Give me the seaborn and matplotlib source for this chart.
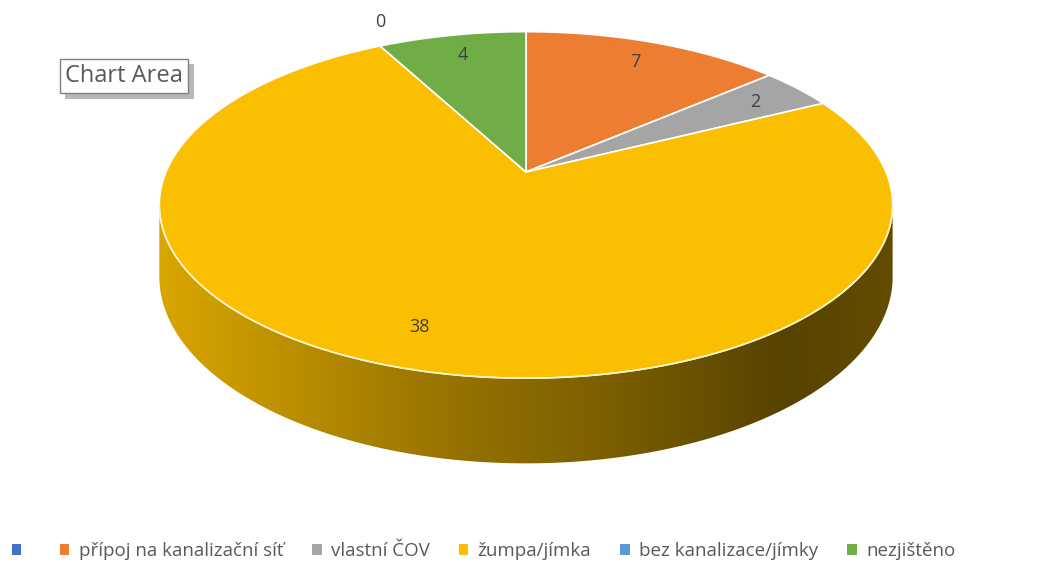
import numpy as np
import matplotlib.pyplot as plt
import matplotlib.patheffects as pe
import seaborn as sns
from matplotlib.patches import Patch, PathPatch
from matplotlib.path import Path
from matplotlib.colors import to_rgb

# --- data ---
categories = ["", "přípoj na kanalizační síť", "vlastní ČOV", "žumpa/jímka",
              "bez kanalizace/jímky", "nezjištěno"]
values = [np.nan, 7, 2, 38, 0, 4]
colors = ["#4472C4", "#ED7D31", "#A5A5A5", "#FABF00", "#5B9BD5", "#70AD47"]

sns.set_theme(style="white")
plt.rcParams['font.family'] = ['Open Sans', 'DejaVu Sans']

# geometry of the fake 3D pie (pixels)
CX, CY = 526, 172
RX, RY = 360, 167
PERSP = 0.19
DEPTH = 69
TXT = "#404040"


def proj(theta, r=1.0, z=0.0):
    s = 1.0 / (1.0 + PERSP * r * np.sin(theta))
    x = CX + RX * r * np.cos(theta) * s
    y = CY - RY * r * np.sin(theta) * s + z * s
    return x, y


fig = plt.figure(figsize=(10.56, 5.67), dpi=100)
ax = fig.add_axes([0, 0, 1, 1])
ax.set_xlim(0, 1056)
ax.set_ylim(567, 0)
ax.axis("off")

total = np.nansum(values)
vals = np.nan_to_num(np.array(values, dtype=float))
acc = 2 * np.pi * np.cumsum(vals) / total
ends = np.pi / 2 - acc
starts = np.r_[np.pi / 2, ends[:-1]]


def slice_color(theta):
    # Excel goes clockwise from 12 o'clock
    a = (np.pi / 2 - theta) % (2 * np.pi)
    idx = min(int(np.searchsorted(acc, a, side="right")), len(colors) - 1)
    return np.array(to_rgb(colors[idx]))


# side wall: visible front part only, horizontal gradient (lighter on the left)
tan = np.arcsin(PERSP)
th_front = np.linspace(-np.pi + tan, -tan, 800)
xf, yf = proj(th_front)
xfb, yfb = proj(th_front, z=DEPTH)
wall = Path(np.c_[np.r_[xf, xfb[::-1], xf[:1]], np.r_[yf, yfb[::-1], yf[:1]]])

x0, x1 = xf.min() - 2, xf.max() + 2
xs = np.linspace(x0, x1, 760)
shade_t = [0.0, 0.4, 0.6, 0.85, 1.0]
shade_f = [0.87, 0.60, 0.50, 0.35, 0.40]
row = []
for x in xs:
    tht = np.interp(x, xf, th_front)
    t = (x - x0) / (x1 - x0)
    row.append(slice_color(tht) * np.interp(t, shade_t, shade_f))
img = np.array(row)[None, :, :]
im = ax.imshow(img, extent=(x0, x1, yfb.max() + 2, CY - 5), aspect="auto",
               interpolation="bilinear", zorder=1)
im.set_clip_path(PathPatch(wall, transform=ax.transData))

# top face
for v, c, a0, a1 in zip(vals, colors, starts, ends):
    if v <= 0:
        continue
    tt = np.linspace(a0, a1, 200)
    x, y = proj(tt)
    ax.fill(np.r_[CX, x], np.r_[CY, y], color=c, ec="white", lw=1.2, zorder=2)

# light rim on the front edge
ax.plot(xf, yf, color="#FFF2C0", lw=1.0, zorder=3)

# data labels
for v, a0, a1 in zip(values, starts, ends):
    if np.isnan(v):
        continue
    mid = (a0 + a1) / 2
    if v > 0:
        x, y = proj(mid, 0.83)
    else:
        x, y = proj(mid, 1.0)
        y -= 24
    ax.text(x, y, f"{int(v)}", ha="center", va="center", fontsize=13, color=TXT, zorder=4)

# "Chart Area" tooltip with a drop shadow
tip = ax.text(65, 76, "Chart Area", fontsize=17, color="#595959", ha="left", va="center",
              bbox=dict(boxstyle="square,pad=0.22", fc="white", ec="#808080", lw=1), zorder=6)
tip.get_bbox_patch().set_path_effects([
    pe.SimplePatchShadow(offset=(4, -4), shadow_rgbFace="#9a9a9a", alpha=0.7), pe.Normal()])

# legend
handles = [Patch(facecolor=c, edgecolor="none") for c in colors]
ax.legend(handles, categories, loc="center", bbox_to_anchor=(0.458, 0.028), ncol=6,
          frameon=False, handlelength=0.5, handleheight=0.5, handletextpad=0.5,
          columnspacing=1.55, fontsize=13.5, labelcolor="#595959")

fig.savefig("out.png", dpi=100)
